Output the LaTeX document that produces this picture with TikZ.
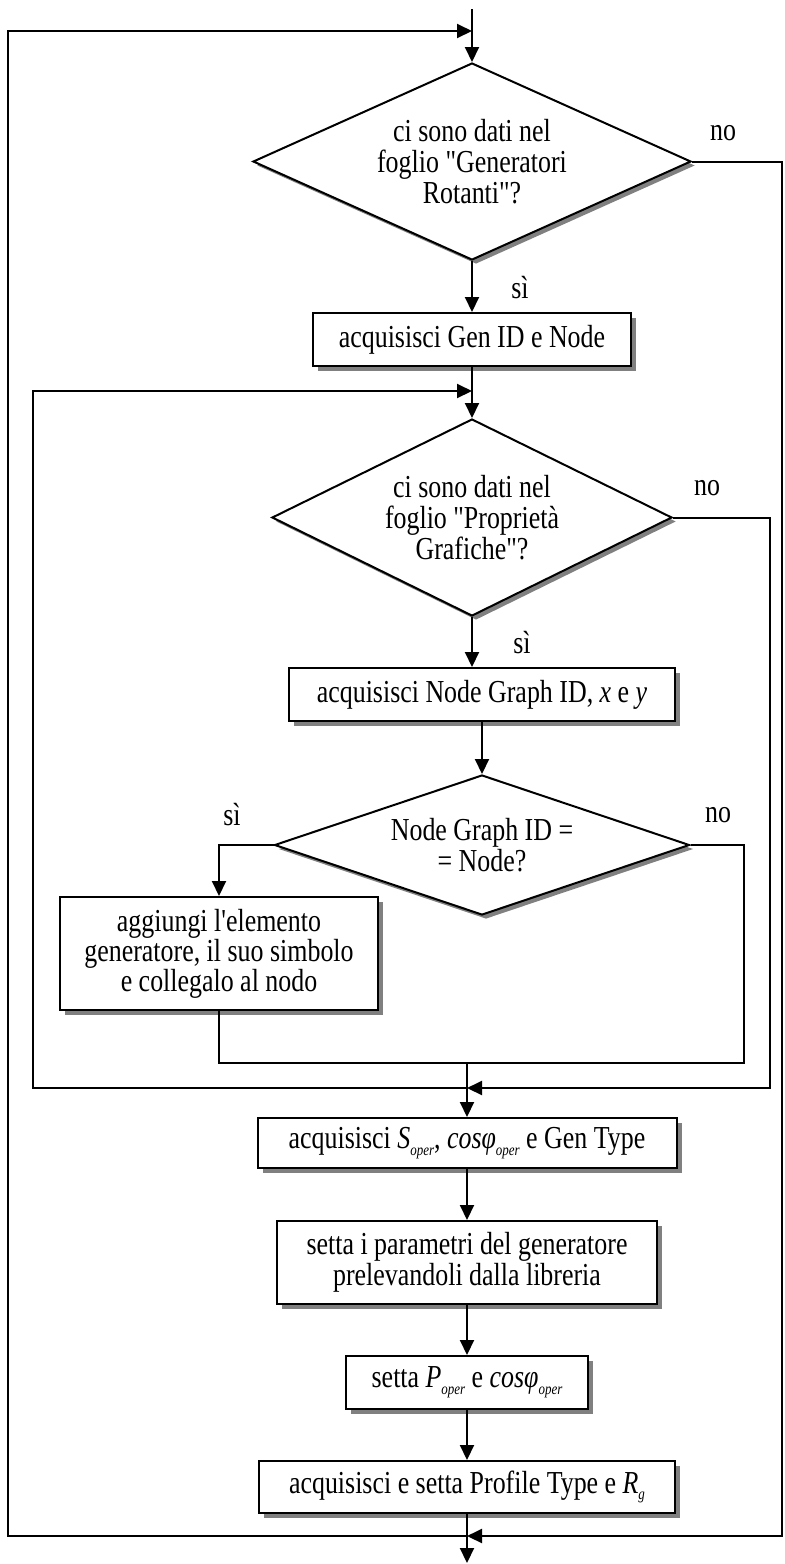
\documentclass[tikz,border=0pt]{standalone}
\usepackage{fontspec}
\setmainfont{Liberation Serif}[FakeStretch=0.81,Ligatures=TeXOff]
\usetikzlibrary{shapes.geometric,arrows.meta,shadows}
% small italic subscript such as "oper"
\newcommand{\sbs}[1]{\raisebox{-0.45ex}{\fontsize{8}{9}\selectfont\itshape #1}}

\begin{document}
\begin{tikzpicture}[x=0.5pt,y=-0.5pt,
  font=\fontsize{16}{15.5}\selectfont,
  line width=1pt,
  arr/.style={-{Triangle[length=7.5pt,width=7pt]}},
  procbox/.style={draw,fill=white,rectangle,inner sep=0pt,align=center,
    drop shadow={shadow xshift=2.5pt,shadow yshift=-2.5pt,fill=black!50,opacity=1}},
  decision/.style={draw,fill=white,diamond,inner sep=0pt,align=center,
    drop shadow={shadow xshift=2pt,shadow yshift=-2pt,fill=black!50,opacity=1}},
  lbl/.style={inner sep=0pt},
  loopline/.style={line width=0.75pt}
]
\useasboundingbox (0,0) rectangle (784,1564);

% decisions
\node[decision,aspect=2.22,minimum width=219pt,minimum height=98.5pt] (d1) at (472,161.5)
  {ci sono dati nel\\foglio "Generatori\\Rotanti"?};
\node[decision,aspect=2.03,minimum width=200pt,minimum height=98.5pt] (d2) at (472,517.5)
  {ci sono dati nel\\foglio "Proprietà\\Grafiche"?};
\node[decision,aspect=2.96,minimum width=207.5pt,minimum height=70pt] (d3) at (482,845)
  {Node Graph ID =\\= Node?};

% process boxes
\node[procbox,minimum width=159pt,minimum height=26.5pt] (b1) at (472,339.5)
  {acquisisci Gen ID e Node};
\node[procbox,minimum width=193pt,minimum height=26.5pt] (b2) at (482,694.5)
  {acquisisci Node Graph ID, \textit{x} e \textit{y}};
\node[procbox,minimum width=159pt,minimum height=56.5pt,font=\fontsize{16}{15}\selectfont] (b3) at (219,953.5)
  {aggiungi l'elemento\\generatore, il suo simbolo\\e collegalo al nodo};
\node[procbox,minimum width=209.5pt,minimum height=25pt] (b4) at (467,1143)
  {acquisisci \textit{S}\sbs{oper}, \textit{cosφ}\sbs{oper} e Gen Type};
\node[procbox,minimum width=190pt,minimum height=41.5pt] (b5) at (467,1262.5)
  {setta i parametri del generatore\\prelevandoli dalla libreria};
\node[procbox,minimum width=121.25pt,minimum height=26.5pt] (b6) at (467,1382.5)
  {setta \textit{P}\sbs{oper} e \textit{cosφ}\sbs{oper}};
\node[procbox,minimum width=208pt,minimum height=26pt] (b7) at (467,1487)
  {acquisisci e setta Profile Type e \textit{R}\sbs{g}};

% branch labels
\node[lbl] (no1) at (723,133) {no};
\node[lbl] (si1) at (520,288) {sì};
\node[lbl] (no2) at (707,488) {no};
\node[lbl] (si2) at (522,643) {sì};
\node[lbl] (si3) at (232,815) {sì};
\node[lbl] (no3) at (718,815) {no};

% corner points of the loop lines
\coordinate (top) at (472,9);
\coordinate (tl) at (8,31);
\coordinate (bl) at (8,1536);
\coordinate (rb) at (782,1536);
\coordinate (lt) at (33,391);
\coordinate (lb) at (33,1088);
\coordinate (rb2) at (770,1088);
\coordinate (jr) at (744,1063);
\coordinate (fin) at (0,1563);

% main flow
\draw[arr] (top) -- (d1.north);
\draw[arr] (d1.south) -- (b1.north);
\draw[arr] (b1.south) -- (d2.north);
\draw[arr] (d2.south) -- (d2.south |- b2.north);
\draw[arr] (b2.south) -- (d3.north);
\draw[arr] (d3.west) -- (d3.west -| b3.north) -- (b3.north);
\draw[loopline] (b3.south) -- (b3.south |- jr) -- (jr) -- (d3.east -| jr) -- (d3.east);
\draw[arr] (b4.north |- jr) -- (b4.north);
\draw[arr] (b4.south) -- (b5.north);
\draw[arr] (b5.south) -- (b6.north);
\draw[arr] (b6.south) -- (b7.north);
\draw[arr] (b7.south) -- (b7.south |- fin);

% inner loop (sheet "Proprietà Grafiche")
\draw[arr] (b4.north |- lb) -- (lb) -- (lt) -- (d2.north |- lt);
\draw[arr] (d2.east) -- (d2.east -| rb2) -- (rb2) -- (b4.north |- rb2);

% outer loop (sheet "Generatori Rotanti")
\draw[arr] (b7.south |- bl) -- (bl) -- (tl) -- (d1.north |- tl);
\draw[arr] (d1.east) -- (d1.east -| rb) -- (rb) -- (b7.south |- rb);
\end{tikzpicture}
\end{document}
